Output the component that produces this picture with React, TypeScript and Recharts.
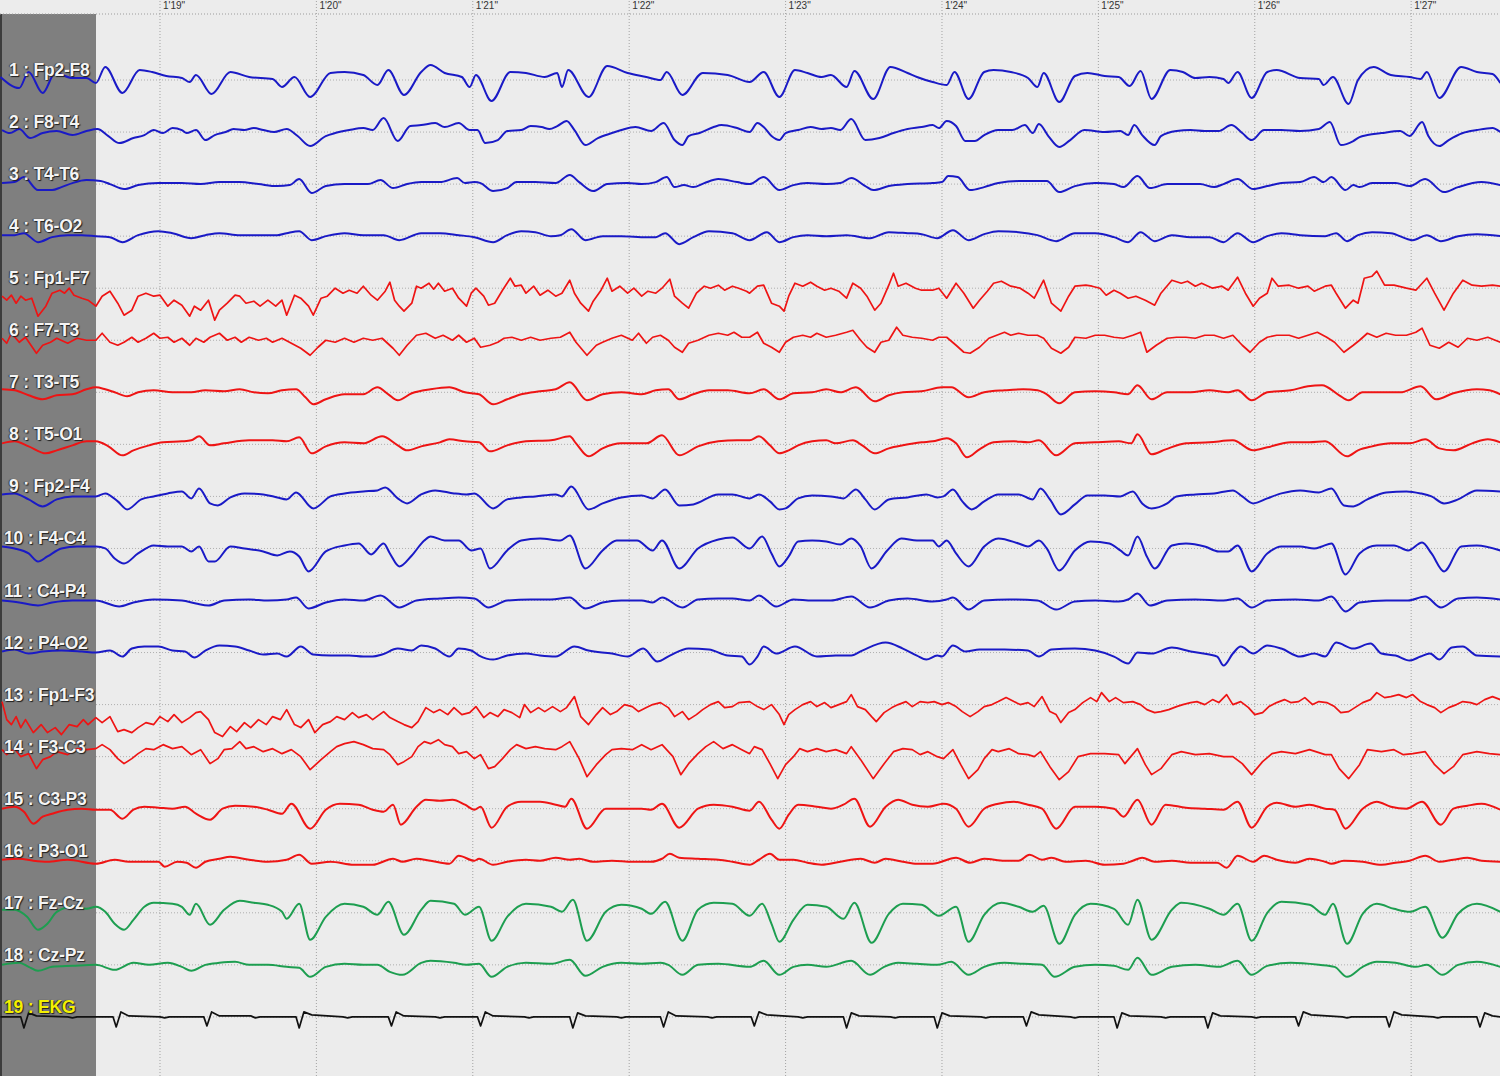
import { LineChart, Line, XAxis, YAxis, ReferenceLine } from 'recharts';

// time axis: seconds after 1'18", amplitudes in display units (up = positive)
const T_START = -0.023;
const T_END = 9.568;
const PANEL_END = 0.591; // right edge of the label panel

const secondTicks = [1, 2, 3, 4, 5, 6, 7, 8, 9];
const secondLabels = ['1\'19"', '1\'20"', '1\'21"', '1\'22"', '1\'23"', '1\'24"', '1\'25"', '1\'26"', '1\'27"'];

const channelNames = [
    '1 : Fp2-F8', '2 : F8-T4', '3 : T4-T6', '4 : T6-O2', '5 : Fp1-F7', '6 : F7-T3', '7 : T3-T5',
    '8 : T5-O1', '9 : Fp2-F4', '10 : F4-C4', '11 : C4-P4', '12 : P4-O2', '13 : Fp1-F3', '14 : F3-C3',
    '15 : C3-P3', '16 : P3-O1', '17 : Fz-Cz', '18 : Cz-Pz', '19 : EKG',
];

const fp2F8 = [[-0.02,3],[0.10,-8],[0.16,8],[0.25,-13],[0.33,7],[0.44,2],[0.53,2],[0.59,-3],[0.65,13],[0.76,-13],[0.87,10],[0.95,8],[1.04,4],[1.14,2],[1.19,-2],[1.23,5],[1.33,-14],[1.45,8],[1.57,3],[1.72,1],[1.78,-7],[1.86,3],[1.96,-17],[2.09,7],[2.18,8],[2.30,5],[2.39,-5],[2.46,10],[2.56,-15],[2.67,8],[2.73,15],[2.82,7],[2.93,3],[2.98,-7],[3.02,5],[3.12,-21],[3.24,8],[3.34,7],[3.46,3],[3.54,7],[3.57,-7],[3.61,10],[3.74,-17],[3.86,14],[3.99,7],[4.11,3],[4.20,0],[4.24,8],[4.34,-15],[4.47,7],[4.63,5],[4.77,-2],[4.86,8],[4.96,-17],[5.06,10],[5.14,7],[5.23,3],[5.29,5],[5.39,-7],[5.44,9],[5.56,-19],[5.67,13],[5.78,7],[5.84,3],[5.94,-2],[6.03,-5],[6.08,8],[6.17,-19],[6.27,8],[6.33,10],[6.44,8],[6.55,2],[6.61,-7],[6.65,7],[6.75,-22],[6.85,4],[6.93,7],[7.04,4],[7.13,3],[7.20,-6],[7.27,9],[7.34,-19],[7.46,10],[7.54,8],[7.62,2],[7.71,3],[7.80,1],[7.83,-3],[7.89,8],[7.98,-18],[8.08,8],[8.14,10],[8.29,2],[8.41,1],[8.44,-5],[8.50,3],[8.60,-24],[8.66,0],[8.76,13],[8.87,5],[8.99,3],[9.06,1],[9.10,8],[9.18,-18],[9.32,13],[9.42,8],[9.52,6],[9.57,-3]];

const f8T4 = [[-0.01,2],[0.04,-1],[0.10,3],[0.17,-6],[0.25,-1],[0.34,1],[0.44,-3],[0.53,1],[0.60,3],[0.67,-4],[0.74,-11],[0.83,-6],[0.90,-3],[0.96,2],[1.02,-1],[1.08,4],[1.14,2],[1.17,-1],[1.23,2],[1.29,-8],[1.35,-3],[1.42,0],[1.47,3],[1.54,2],[1.60,4],[1.66,2],[1.73,0],[1.81,3],[1.88,-4],[1.96,-14],[2.06,-4],[2.12,-1],[2.21,2],[2.30,4],[2.36,2],[2.43,14],[2.52,-9],[2.60,6],[2.67,7],[2.76,9],[2.82,5],[2.91,9],[2.98,2],[3.03,2],[3.08,-11],[3.16,-8],[3.22,1],[3.31,2],[3.37,6],[3.44,5],[3.49,3],[3.54,6],[3.60,11],[3.65,2],[3.72,-13],[3.80,-6],[3.89,-1],[3.95,2],[4.04,5],[4.14,1],[4.22,9],[4.29,-8],[4.34,-13],[4.38,-4],[4.45,-1],[4.54,5],[4.59,7],[4.69,4],[4.77,0],[4.82,9],[4.86,5],[4.91,-4],[4.96,-8],[5.00,-1],[5.08,2],[5.16,5],[5.23,3],[5.29,4],[5.35,2],[5.42,13],[5.51,-8],[5.60,-6],[5.69,-1],[5.78,3],[5.87,5],[5.94,7],[5.98,4],[6.03,11],[6.09,6],[6.15,-9],[6.21,-9],[6.27,-3],[6.36,2],[6.45,2],[6.53,7],[6.58,-1],[6.62,8],[6.68,-4],[6.75,-15],[6.82,-8],[6.91,2],[7.04,0],[7.14,1],[7.19,-3],[7.23,7],[7.28,-3],[7.36,-13],[7.40,-4],[7.50,1],[7.59,2],[7.68,1],[7.77,1],[7.85,7],[7.92,-1],[7.98,-8],[8.06,2],[8.17,2],[8.29,1],[8.41,3],[8.48,10],[8.55,-13],[8.63,-9],[8.67,-5],[8.72,-3],[8.81,-1],[8.93,1],[8.99,-4],[9.07,10],[9.11,-4],[9.18,-14],[9.24,-8],[9.33,-1],[9.42,2],[9.52,4],[9.57,0]];

const t4T6 = [[-0.01,1],[0.07,2],[0.13,7],[0.22,-6],[0.31,-6],[0.37,-3],[0.44,1],[0.53,4],[0.62,3],[0.68,0],[0.77,-5],[0.86,-1],[0.99,1],[1.14,1],[1.26,0],[1.38,2],[1.51,2],[1.63,0],[1.75,-2],[1.83,-1],[1.89,5],[1.97,-9],[2.06,-2],[2.18,0],[2.33,0],[2.41,4],[2.49,-4],[2.58,0],[2.67,2],[2.79,2],[2.90,6],[2.95,1],[3.01,2],[3.05,1],[3.13,-7],[3.22,-4],[3.28,2],[3.40,2],[3.53,1],[3.62,9],[3.68,2],[3.77,-7],[3.86,0],[3.99,1],[4.08,0],[4.17,2],[4.24,7],[4.29,-3],[4.35,-1],[4.41,-3],[4.48,1],[4.57,5],[4.69,2],[4.77,0],[4.86,7],[4.96,-6],[5.05,-1],[5.14,1],[5.26,0],[5.35,1],[5.42,6],[5.51,-2],[5.56,-6],[5.66,-2],[5.78,0],[5.94,1],[6.00,2],[6.04,8],[6.10,7],[6.18,-6],[6.27,-3],[6.36,1],[6.49,3],[6.67,3],[6.75,-8],[6.85,-2],[6.98,1],[7.10,0],[7.16,-3],[7.25,8],[7.33,-4],[7.44,0],[7.65,0],[7.74,-3],[7.80,0],[7.89,5],[7.99,-5],[8.08,-2],[8.17,1],[8.29,2],[8.38,7],[8.44,2],[8.49,7],[8.58,-6],[8.63,-1],[8.67,-3],[8.75,1],[8.90,1],[8.99,-2],[9.09,5],[9.21,-8],[9.30,-3],[9.45,2],[9.57,-1]];

const t6O2 = [[-0.01,1],[0.07,1],[0.13,3],[0.22,-6],[0.31,-1],[0.41,1],[0.50,1],[0.59,0],[0.68,-1],[0.76,-6],[0.86,1],[0.99,5],[1.08,3],[1.20,-2],[1.29,1],[1.38,3],[1.51,1],[1.63,1],[1.75,1],[1.81,3],[1.89,5],[1.97,-4],[2.06,0],[2.18,3],[2.30,1],[2.43,1],[2.53,-4],[2.67,3],[2.79,3],[2.91,1],[3.01,-1],[3.13,-6],[3.22,1],[3.31,5],[3.40,4],[3.50,0],[3.56,1],[3.63,7],[3.72,-4],[3.83,0],[3.95,0],[4.11,-1],[4.17,-1],[4.23,3],[4.32,-8],[4.41,-1],[4.51,5],[4.66,3],[4.77,-4],[4.88,4],[4.96,-6],[5.05,-1],[5.14,1],[5.26,0],[5.39,1],[5.54,-2],[5.66,4],[5.78,3],[5.87,2],[5.97,-2],[6.07,6],[6.17,-4],[6.27,2],[6.36,5],[6.49,4],[6.61,1],[6.73,-5],[6.85,3],[6.98,3],[7.10,-1],[7.19,-6],[7.27,4],[7.36,-5],[7.47,1],[7.59,-1],[7.71,-1],[7.80,-6],[7.89,3],[7.99,-6],[8.08,0],[8.17,3],[8.29,1],[8.45,0],[8.52,3],[8.59,-5],[8.66,1],[8.75,4],[8.87,3],[9.01,-4],[9.10,1],[9.19,-5],[9.30,0],[9.42,2],[9.57,0]];

const fp1F7 = [[-0.01,-8],[0.02,-12],[0.05,-7],[0.08,-15],[0.11,-8],[0.14,-12],[0.18,-10],[0.22,-28],[0.27,-18],[0.31,-5],[0.36,-2],[0.39,-5],[0.42,0],[0.45,-7],[0.50,-10],[0.54,-12],[0.59,-18],[0.63,-8],[0.68,-3],[0.73,-15],[0.77,-27],[0.82,-22],[0.86,-8],[0.91,-5],[0.96,-8],[1.00,-7],[1.05,-18],[1.09,-12],[1.14,-17],[1.19,-28],[1.22,-18],[1.26,-22],[1.31,-12],[1.35,-32],[1.38,-22],[1.43,-15],[1.48,-7],[1.51,-8],[1.55,-15],[1.60,-13],[1.64,-18],[1.69,-12],[1.74,-18],[1.78,-12],[1.81,-27],[1.86,-7],[1.90,-10],[1.95,-18],[1.98,-27],[2.03,-10],[2.07,-8],[2.12,0],[2.17,-5],[2.21,-2],[2.26,-5],[2.30,2],[2.35,-7],[2.39,-12],[2.44,-3],[2.47,6],[2.50,-12],[2.53,-18],[2.56,-23],[2.61,-15],[2.64,2],[2.67,0],[2.72,5],[2.75,-1],[2.78,5],[2.82,-3],[2.87,0],[2.91,-10],[2.96,-18],[2.99,-5],[3.02,0],[3.07,-8],[3.10,-17],[3.14,-15],[3.19,-2],[3.24,10],[3.27,2],[3.31,3],[3.34,-5],[3.39,2],[3.43,-7],[3.48,-2],[3.53,-8],[3.57,-5],[3.62,8],[3.65,-5],[3.69,-15],[3.74,-23],[3.77,-13],[3.82,-2],[3.86,10],[3.89,-3],[3.94,2],[3.99,-5],[4.03,0],[4.08,-8],[4.12,-3],[4.17,-5],[4.21,0],[4.26,9],[4.29,-8],[4.34,-15],[4.38,-20],[4.43,-5],[4.48,2],[4.52,0],[4.57,3],[4.61,-2],[4.66,2],[4.70,0],[4.75,-3],[4.77,-5],[4.82,2],[4.86,3],[4.91,-15],[4.96,-18],[4.99,-23],[5.02,-8],[5.06,5],[5.11,2],[5.16,6],[5.20,2],[5.25,-2],[5.29,0],[5.34,-3],[5.39,-10],[5.43,5],[5.48,0],[5.52,-8],[5.57,-22],[5.61,-15],[5.66,3],[5.69,15],[5.72,2],[5.77,5],[5.83,0],[5.87,-2],[5.94,-2],[5.98,0],[6.03,-10],[6.09,5],[6.14,-5],[6.20,-20],[6.24,-12],[6.29,-3],[6.33,5],[6.38,7],[6.44,2],[6.50,0],[6.55,-5],[6.59,-10],[6.65,8],[6.70,-15],[6.76,-23],[6.81,-8],[6.85,2],[6.92,3],[6.96,2],[7.01,0],[7.05,-7],[7.10,-2],[7.14,-5],[7.19,-10],[7.24,-8],[7.30,-12],[7.36,-17],[7.40,-5],[7.47,8],[7.53,5],[7.57,7],[7.62,2],[7.66,5],[7.73,0],[7.79,2],[7.83,-2],[7.89,11],[7.94,-5],[7.99,-18],[8.03,-10],[8.08,-5],[8.11,10],[8.15,2],[8.22,3],[8.28,0],[8.34,2],[8.38,-3],[8.45,2],[8.49,3],[8.52,-5],[8.58,-20],[8.63,-12],[8.66,-15],[8.70,10],[8.75,12],[8.78,17],[8.83,3],[8.89,3],[8.97,0],[9.03,-2],[9.10,10],[9.15,-5],[9.21,-22],[9.27,-5],[9.33,8],[9.39,3],[9.45,2],[9.52,3],[9.57,2]];

const f7T3 = [[-0.01,2],[0.02,-3],[0.05,7],[0.10,-2],[0.14,3],[0.21,-13],[0.25,-5],[0.30,-2],[0.34,2],[0.41,-3],[0.47,2],[0.53,0],[0.59,0],[0.63,7],[0.68,-2],[0.73,-5],[0.77,-2],[0.82,3],[0.86,-2],[0.91,2],[0.96,7],[1.00,2],[1.05,3],[1.09,-2],[1.14,2],[1.19,-5],[1.23,2],[1.28,-2],[1.32,3],[1.38,7],[1.43,0],[1.48,3],[1.52,-2],[1.57,3],[1.63,0],[1.68,2],[1.72,-2],[1.78,2],[1.84,-3],[1.90,-8],[1.96,-15],[2.01,-7],[2.06,0],[2.12,-2],[2.18,2],[2.24,-2],[2.30,2],[2.36,0],[2.42,2],[2.49,-8],[2.53,-15],[2.58,-5],[2.64,5],[2.70,7],[2.76,2],[2.81,5],[2.87,0],[2.91,5],[2.96,-2],[3.01,2],[3.05,-7],[3.11,-5],[3.16,-2],[3.20,2],[3.25,3],[3.31,0],[3.37,3],[3.43,0],[3.50,2],[3.56,3],[3.62,8],[3.66,-2],[3.73,-15],[3.79,-5],[3.83,-2],[3.89,2],[3.95,5],[4.02,0],[4.06,7],[4.11,-3],[4.15,3],[4.20,5],[4.25,0],[4.29,-7],[4.34,-12],[4.38,-3],[4.44,0],[4.51,5],[4.57,7],[4.63,5],[4.67,8],[4.72,3],[4.77,3],[4.82,8],[4.86,-3],[4.91,-7],[4.96,-12],[5.00,-2],[5.05,3],[5.11,5],[5.16,3],[5.20,7],[5.26,3],[5.32,5],[5.39,8],[5.43,10],[5.48,0],[5.52,-7],[5.57,-12],[5.61,-2],[5.66,0],[5.71,13],[5.75,5],[5.81,3],[5.87,2],[5.94,0],[5.98,3],[6.03,3],[6.09,-5],[6.14,-12],[6.18,-13],[6.24,-7],[6.30,2],[6.35,5],[6.40,8],[6.44,5],[6.49,7],[6.55,5],[6.61,5],[6.65,2],[6.70,-8],[6.76,-13],[6.81,-7],[6.85,3],[6.92,2],[6.98,5],[7.04,5],[7.10,3],[7.16,2],[7.22,5],[7.27,8],[7.31,-12],[7.37,-5],[7.44,2],[7.50,3],[7.56,3],[7.62,2],[7.68,5],[7.74,5],[7.80,2],[7.86,5],[7.92,-5],[7.97,-12],[8.03,-2],[8.08,3],[8.14,5],[8.22,5],[8.28,2],[8.34,5],[8.40,8],[8.46,3],[8.51,-2],[8.57,-12],[8.63,-5],[8.67,0],[8.72,7],[8.78,3],[8.84,7],[8.90,5],[8.97,5],[9.03,8],[9.07,12],[9.12,-5],[9.18,-8],[9.24,-2],[9.30,-7],[9.36,2],[9.42,0],[9.49,3],[9.57,-2]];

const t3T5 = [[-0.01,3],[0.07,2],[0.16,-3],[0.25,-7],[0.34,-3],[0.44,-2],[0.53,3],[0.59,5],[0.65,3],[0.71,0],[0.79,-4],[0.86,0],[0.96,2],[1.08,0],[1.20,0],[1.29,2],[1.41,1],[1.51,3],[1.60,0],[1.69,-1],[1.78,2],[1.87,3],[1.93,-5],[1.98,-12],[2.06,-7],[2.18,-2],[2.30,-2],[2.39,5],[2.46,-2],[2.52,-8],[2.61,-1],[2.73,3],[2.85,5],[2.95,0],[3.04,-2],[3.13,-12],[3.22,-7],[3.31,-2],[3.43,1],[3.53,3],[3.62,10],[3.73,-8],[3.83,-2],[3.95,0],[4.08,-2],[4.17,2],[4.25,3],[4.32,-7],[4.41,-2],[4.51,2],[4.63,2],[4.77,-1],[4.86,3],[4.96,-7],[5.05,-1],[5.17,0],[5.26,3],[5.35,0],[5.45,5],[5.57,-9],[5.66,-3],[5.75,0],[5.87,1],[6.00,5],[6.06,5],[6.17,-5],[6.27,0],[6.40,2],[6.52,3],[6.61,2],[6.67,-2],[6.75,-11],[6.85,0],[6.98,1],[7.10,0],[7.19,-2],[7.25,7],[7.34,-7],[7.44,0],[7.59,0],[7.71,2],[7.83,0],[7.89,2],[7.98,-8],[8.08,0],[8.23,2],[8.34,6],[8.43,7],[8.54,-3],[8.60,-8],[8.69,0],[8.81,0],[8.93,0],[9.06,6],[9.16,-7],[9.27,-1],[9.42,3],[9.50,2],[9.57,-2]];

const t5O1 = [[-0.01,1],[0.07,3],[0.16,-2],[0.27,-9],[0.34,-6],[0.44,-1],[0.53,3],[0.59,3],[0.67,-2],[0.76,-11],[0.83,-6],[0.93,-1],[1.02,2],[1.14,3],[1.20,4],[1.25,8],[1.32,-1],[1.41,1],[1.57,4],[1.72,4],[1.81,3],[1.89,7],[1.97,-9],[2.06,-2],[2.18,2],[2.30,1],[2.42,8],[2.52,-1],[2.58,-6],[2.67,-2],[2.79,2],[2.85,5],[2.95,3],[3.04,2],[3.11,-7],[3.22,-1],[3.34,3],[3.50,4],[3.62,8],[3.66,1],[3.74,-12],[3.83,-4],[3.95,1],[4.11,1],[4.21,9],[4.32,-11],[4.44,-2],[4.57,3],[4.69,4],[4.77,4],[4.83,8],[4.90,-1],[4.96,-9],[5.02,-6],[5.08,-1],[5.17,3],[5.26,4],[5.32,1],[5.43,4],[5.49,-1],[5.57,-9],[5.66,-4],[5.75,-1],[5.87,2],[5.94,3],[6.03,6],[6.09,1],[6.16,-13],[6.24,-5],[6.33,2],[6.46,3],[6.55,2],[6.62,4],[6.73,-11],[6.85,1],[6.98,2],[7.13,3],[7.21,1],[7.25,10],[7.34,-10],[7.43,-5],[7.56,1],[7.71,2],[7.86,4],[7.99,-6],[8.08,-3],[8.23,2],[8.35,2],[8.45,3],[8.59,-12],[8.66,-6],[8.75,-2],[8.87,1],[8.99,1],[9.09,5],[9.18,-4],[9.27,-6],[9.39,1],[9.49,5],[9.57,2]];

const fp2F4 = [[-0.01,2],[0.07,3],[0.16,-3],[0.25,-10],[0.34,-3],[0.44,0],[0.59,0],[0.65,3],[0.73,-5],[0.79,-13],[0.88,-3],[0.96,0],[1.05,3],[1.14,5],[1.20,-2],[1.25,8],[1.32,-7],[1.37,-9],[1.45,-1],[1.54,3],[1.66,2],[1.75,-1],[1.81,-3],[1.87,4],[1.98,-12],[2.09,0],[2.18,3],[2.30,5],[2.39,6],[2.44,9],[2.52,-2],[2.58,-7],[2.67,2],[2.76,6],[2.88,3],[2.96,2],[3.01,3],[3.13,-12],[3.22,-3],[3.31,-1],[3.40,0],[3.53,2],[3.57,0],[3.63,10],[3.74,-13],[3.83,-7],[3.95,-1],[4.08,1],[4.15,-2],[4.23,7],[4.32,-9],[4.41,-8],[4.57,2],[4.66,2],[4.77,-2],[4.83,2],[4.90,-5],[4.96,-13],[5.00,-12],[5.08,-2],[5.17,1],[5.29,0],[5.37,-2],[5.45,7],[5.51,-3],[5.57,-13],[5.66,-3],[5.78,-1],[5.90,2],[5.97,-1],[6.01,0],[6.07,7],[6.13,-5],[6.19,-13],[6.27,-5],[6.36,2],[6.49,2],[6.58,-3],[6.63,8],[6.69,-3],[6.76,-18],[6.85,-8],[6.93,1],[7.04,1],[7.14,0],[7.22,5],[7.28,-7],[7.34,-12],[7.44,-7],[7.50,0],[7.62,2],[7.74,3],[7.86,6],[7.92,0],[7.99,-7],[8.08,-2],[8.17,3],[8.29,6],[8.41,4],[8.49,8],[8.57,-9],[8.63,-10],[8.72,-3],[8.84,4],[8.97,5],[9.06,3],[9.13,0],[9.21,-7],[9.30,-3],[9.42,6],[9.57,5]];

const f4C4 = [[-0.01,2],[0.07,0],[0.16,-5],[0.22,-13],[0.28,-8],[0.37,0],[0.47,2],[0.59,2],[0.65,0],[0.71,-10],[0.77,-15],[0.86,-5],[0.96,3],[1.05,2],[1.14,2],[1.20,-3],[1.25,2],[1.31,-13],[1.35,-13],[1.45,2],[1.54,0],[1.66,-3],[1.75,-7],[1.83,-3],[1.89,-8],[1.95,-23],[2.06,-3],[2.18,3],[2.27,5],[2.35,-6],[2.43,5],[2.47,-5],[2.53,-18],[2.61,-7],[2.69,8],[2.73,12],[2.82,8],[2.91,8],[2.99,-2],[3.05,0],[3.11,-20],[3.22,-2],[3.31,8],[3.43,10],[3.56,8],[3.62,13],[3.72,-20],[3.83,-2],[3.92,8],[4.05,8],[4.15,-2],[4.21,8],[4.32,-20],[4.44,0],[4.57,9],[4.66,11],[4.77,0],[4.85,12],[4.91,-5],[4.96,-18],[5.02,-8],[5.08,7],[5.17,8],[5.26,7],[5.35,4],[5.42,10],[5.48,2],[5.55,-20],[5.65,-2],[5.74,10],[5.84,8],[5.94,8],[5.98,2],[6.03,8],[6.09,-5],[6.17,-18],[6.27,2],[6.36,10],[6.49,5],[6.55,2],[6.62,8],[6.67,0],[6.75,-22],[6.85,-2],[6.95,7],[7.07,5],[7.14,-2],[7.19,-7],[7.25,12],[7.31,-8],[7.36,-20],[7.47,3],[7.56,5],[7.68,2],[7.77,-3],[7.83,-3],[7.89,3],[7.98,-23],[8.08,-5],[8.17,2],[8.29,2],[8.38,0],[8.43,2],[8.49,5],[8.58,-26],[8.67,-5],[8.78,3],[8.89,3],[8.98,-2],[9.07,6],[9.13,-5],[9.21,-23],[9.32,2],[9.42,3],[9.57,-2]];

const c4P4 = [[-0.01,0],[0.10,-2],[0.22,-5],[0.31,-2],[0.44,0],[0.59,0],[0.74,-6],[0.83,-2],[0.96,1],[1.14,0],[1.23,-3],[1.31,-5],[1.41,0],[1.57,1],[1.69,0],[1.81,1],[1.87,3],[1.95,-8],[2.06,-2],[2.18,1],[2.30,0],[2.41,5],[2.53,-7],[2.64,0],[2.79,2],[2.91,3],[3.01,2],[3.10,-7],[3.22,0],[3.37,1],[3.50,1],[3.62,3],[3.72,-8],[3.83,-2],[3.95,0],[4.08,0],[4.15,-2],[4.21,3],[4.34,-7],[4.44,1],[4.57,2],[4.66,2],[4.77,0],[4.83,5],[4.94,-6],[5.05,1],[5.17,0],[5.29,0],[5.42,4],[5.54,-7],[5.66,0],[5.78,2],[5.94,-1],[6.03,1],[6.07,3],[6.17,-9],[6.27,0],[6.43,1],[6.61,0],[6.73,-9],[6.85,-1],[6.98,0],[7.13,-1],[7.19,1],[7.25,7],[7.33,-5],[7.44,0],[7.62,1],[7.80,0],[7.89,2],[7.98,-7],[8.08,0],[8.26,1],[8.41,0],[8.49,4],[8.58,-11],[8.67,-2],[8.84,0],[8.98,0],[9.09,4],[9.19,-7],[9.30,2],[9.42,3],[9.57,1]];

const p4O2 = [[-0.01,1],[0.07,3],[0.16,-1],[0.25,1],[0.37,2],[0.50,1],[0.59,0],[0.68,2],[0.76,-4],[0.82,4],[0.90,6],[0.99,6],[1.08,2],[1.16,1],[1.22,-5],[1.29,2],[1.38,7],[1.48,6],[1.57,2],[1.66,-2],[1.75,-1],[1.81,-4],[1.90,6],[1.98,-2],[2.09,-3],[2.21,-3],[2.30,-4],[2.36,-4],[2.42,-2],[2.52,4],[2.61,2],[2.67,7],[2.76,4],[2.85,-4],[2.91,4],[2.99,2],[3.04,-3],[3.13,-7],[3.22,-3],[3.34,-1],[3.43,-3],[3.53,-4],[3.65,6],[3.74,2],[3.89,-1],[3.99,-4],[4.09,4],[4.18,-9],[4.26,-3],[4.38,4],[4.51,3],[4.63,-3],[4.72,-4],[4.77,-12],[4.82,-4],[4.86,6],[4.94,-1],[5.06,6],[5.20,-4],[5.32,-3],[5.42,-3],[5.49,2],[5.64,10],[5.75,4],[5.84,-3],[5.90,-7],[5.97,-3],[6.00,-4],[6.07,7],[6.15,1],[6.24,3],[6.40,3],[6.55,2],[6.62,-4],[6.70,3],[6.85,4],[6.98,2],[7.10,-4],[7.19,-11],[7.25,0],[7.34,-1],[7.47,5],[7.59,1],[7.71,-2],[7.76,-4],[7.80,-13],[7.86,-1],[7.91,6],[7.99,-1],[8.08,7],[8.17,4],[8.29,-4],[8.38,-1],[8.45,-4],[8.52,10],[8.63,4],[8.74,9],[8.81,-1],[8.90,-3],[8.99,-8],[9.06,-4],[9.12,-1],[9.18,-7],[9.26,5],[9.33,6],[9.42,-3],[9.57,-4]];

const fp1F3 = [[-0.01,3],[0.02,-15],[0.05,-20],[0.08,-12],[0.11,-23],[0.14,-15],[0.19,-28],[0.24,-20],[0.28,-28],[0.33,-23],[0.37,-30],[0.42,-20],[0.47,-22],[0.51,-15],[0.54,-20],[0.59,-13],[0.63,-18],[0.68,-12],[0.73,-27],[0.77,-25],[0.82,-28],[0.86,-23],[0.91,-18],[0.96,-20],[1.00,-12],[1.05,-17],[1.09,-10],[1.14,-18],[1.19,-13],[1.23,-8],[1.26,-7],[1.31,-15],[1.35,-28],[1.40,-32],[1.45,-22],[1.49,-27],[1.54,-18],[1.58,-23],[1.63,-15],[1.68,-20],[1.72,-12],[1.77,-15],[1.81,-5],[1.86,-20],[1.90,-23],[1.95,-15],[1.99,-28],[2.04,-20],[2.09,-17],[2.13,-12],[2.18,-15],[2.23,-8],[2.27,-13],[2.32,-10],[2.36,-15],[2.43,-7],[2.47,-13],[2.52,-17],[2.56,-20],[2.61,-23],[2.65,-17],[2.70,-3],[2.75,-8],[2.79,-5],[2.84,-10],[2.88,-3],[2.93,-10],[2.98,-8],[3.02,-2],[3.07,-13],[3.11,-8],[3.16,-12],[3.20,-5],[3.25,-8],[3.30,-13],[3.33,0],[3.37,-8],[3.42,-3],[3.46,-7],[3.51,-2],[3.56,-7],[3.60,-3],[3.65,8],[3.69,-12],[3.74,-20],[3.79,-10],[3.83,-3],[3.88,-10],[3.92,-7],[3.97,0],[4.02,-2],[4.06,-7],[4.11,-3],[4.15,0],[4.20,2],[4.25,-3],[4.29,-12],[4.34,-7],[4.38,-15],[4.43,-10],[4.47,-5],[4.52,0],[4.57,3],[4.61,-3],[4.66,-2],[4.70,2],[4.77,3],[4.82,-2],[4.86,-5],[4.91,0],[4.96,-10],[4.99,-20],[5.02,-10],[5.06,-5],[5.11,0],[5.16,3],[5.20,-2],[5.25,2],[5.29,-3],[5.34,0],[5.39,3],[5.42,10],[5.46,-2],[5.51,-5],[5.55,-12],[5.58,-17],[5.63,-8],[5.68,-3],[5.72,0],[5.77,3],[5.81,-2],[5.86,3],[5.91,2],[5.95,3],[6.00,0],[6.04,2],[6.09,-2],[6.13,-7],[6.18,-12],[6.23,-7],[6.27,-2],[6.32,0],[6.36,3],[6.41,7],[6.46,3],[6.50,0],[6.55,2],[6.59,-2],[6.64,8],[6.69,-7],[6.73,-10],[6.76,-18],[6.81,-8],[6.85,-5],[6.90,2],[6.95,7],[6.99,3],[7.02,12],[7.07,3],[7.11,7],[7.16,2],[7.22,3],[7.27,0],[7.31,-5],[7.36,-8],[7.40,-7],[7.45,-5],[7.50,-2],[7.54,0],[7.59,2],[7.63,3],[7.68,0],[7.73,5],[7.77,2],[7.82,10],[7.86,0],[7.91,3],[7.96,-3],[8.00,-10],[8.05,-8],[8.09,-2],[8.14,2],[8.19,5],[8.23,2],[8.28,3],[8.32,7],[8.37,0],[8.41,3],[8.46,2],[8.51,-2],[8.55,-8],[8.60,-7],[8.64,-3],[8.69,2],[8.74,5],[8.78,12],[8.83,7],[8.87,8],[8.92,10],[8.97,7],[9.01,10],[9.06,3],[9.10,0],[9.15,-3],[9.19,-8],[9.24,-3],[9.29,0],[9.33,3],[9.38,2],[9.42,0],[9.47,5],[9.52,8],[9.57,5]];

const f3C3 = [[-0.01,7],[0.02,2],[0.07,8],[0.11,0],[0.16,3],[0.21,-12],[0.25,-3],[0.30,0],[0.34,5],[0.41,2],[0.47,8],[0.53,7],[0.59,8],[0.63,12],[0.68,7],[0.73,-2],[0.77,-7],[0.82,-2],[0.86,3],[0.91,8],[0.96,7],[1.02,12],[1.08,8],[1.14,10],[1.20,2],[1.26,7],[1.32,-7],[1.37,-2],[1.41,7],[1.46,8],[1.51,15],[1.55,8],[1.60,10],[1.66,5],[1.72,8],[1.78,3],[1.84,7],[1.90,0],[1.96,-13],[2.03,-3],[2.09,5],[2.13,10],[2.18,13],[2.24,15],[2.30,12],[2.36,8],[2.43,7],[2.47,2],[2.52,-8],[2.56,-5],[2.61,0],[2.65,10],[2.69,15],[2.73,13],[2.78,17],[2.82,12],[2.87,10],[2.91,3],[2.96,5],[3.01,-2],[3.05,2],[3.10,-12],[3.14,-10],[3.19,-2],[3.24,7],[3.28,12],[3.34,8],[3.40,10],[3.46,8],[3.53,7],[3.57,10],[3.62,15],[3.68,-2],[3.73,-20],[3.79,-8],[3.85,2],[3.89,7],[3.95,8],[4.02,7],[4.08,12],[4.14,7],[4.21,12],[4.28,0],[4.33,-18],[4.38,-7],[4.44,3],[4.49,10],[4.54,15],[4.60,8],[4.66,12],[4.72,7],[4.77,3],[4.80,10],[4.85,7],[4.90,-7],[4.95,-22],[5.00,-8],[5.05,0],[5.09,8],[5.14,5],[5.20,8],[5.26,5],[5.32,7],[5.39,3],[5.42,10],[5.48,-3],[5.56,-22],[5.63,-7],[5.69,5],[5.75,8],[5.81,7],[5.86,2],[5.91,5],[5.97,0],[6.01,-2],[6.07,7],[6.12,-8],[6.17,-22],[6.23,-13],[6.27,-2],[6.32,7],[6.36,5],[6.43,8],[6.49,3],[6.55,2],[6.59,0],[6.63,5],[6.69,-10],[6.75,-23],[6.81,-15],[6.87,0],[6.95,3],[7.04,3],[7.13,2],[7.17,-7],[7.25,8],[7.30,-8],[7.34,-18],[7.40,-12],[7.47,2],[7.53,5],[7.62,2],[7.71,3],[7.80,0],[7.86,0],[7.92,-7],[7.98,-18],[8.05,-5],[8.11,3],[8.17,5],[8.26,3],[8.35,7],[8.45,2],[8.49,2],[8.54,-12],[8.60,-22],[8.67,-8],[8.72,7],[8.81,5],[8.89,7],[8.95,2],[9.01,3],[9.09,5],[9.15,-8],[9.21,-17],[9.27,-10],[9.33,2],[9.42,5],[9.50,3],[9.57,2]];

const c3P3 = [[-0.01,0],[0.07,2],[0.13,-3],[0.19,-15],[0.25,-8],[0.31,-5],[0.41,-1],[0.50,0],[0.59,-1],[0.68,-1],[0.76,-10],[0.83,-1],[0.90,2],[0.99,1],[1.08,0],[1.16,2],[1.23,-5],[1.32,-11],[1.40,0],[1.48,3],[1.60,2],[1.69,-1],[1.78,-5],[1.84,5],[1.96,-20],[2.06,-1],[2.15,5],[2.27,4],[2.36,-1],[2.43,-3],[2.49,4],[2.54,-16],[2.64,2],[2.70,9],[2.79,8],[2.87,9],[2.95,4],[3.01,-1],[3.05,2],[3.12,-19],[3.22,2],[3.31,7],[3.43,7],[3.53,4],[3.59,2],[3.63,10],[3.73,-20],[3.85,0],[3.95,0],[4.08,0],[4.14,-1],[4.21,5],[4.32,-19],[4.44,0],[4.54,4],[4.66,2],[4.77,-2],[4.83,7],[4.91,-11],[4.96,-20],[5.02,-6],[5.08,4],[5.20,2],[5.29,0],[5.37,4],[5.44,10],[5.54,-18],[5.64,2],[5.72,9],[5.81,4],[5.91,2],[6.01,5],[6.09,0],[6.17,-18],[6.27,0],[6.36,5],[6.46,7],[6.55,4],[6.64,0],[6.73,-20],[6.85,2],[6.98,2],[7.10,0],[7.16,-8],[7.25,9],[7.34,-16],[7.43,4],[7.56,1],[7.68,0],[7.80,-1],[7.89,7],[7.98,-19],[8.08,2],[8.14,6],[8.26,2],[8.35,4],[8.45,0],[8.51,-1],[8.58,-20],[8.69,0],[8.78,7],[8.87,2],[8.97,0],[9.07,7],[9.19,-16],[9.27,0],[9.36,3],[9.45,5],[9.57,-1]];

const p3O1 = [[-0.01,1],[0.10,2],[0.19,0],[0.28,-1],[0.41,1],[0.59,-3],[0.71,1],[0.80,-1],[0.99,-1],[1.03,-6],[1.11,-1],[1.17,-2],[1.23,-7],[1.29,-1],[1.38,2],[1.45,4],[1.57,1],[1.69,-1],[1.81,1],[1.89,6],[1.97,-3],[2.09,-1],[2.24,-4],[2.36,-4],[2.49,2],[2.55,-1],[2.64,2],[2.73,0],[2.85,-3],[2.91,5],[3.01,0],[3.04,2],[3.13,-4],[3.22,-1],[3.34,1],[3.43,0],[3.53,3],[3.62,1],[3.68,2],[3.77,-1],[3.89,0],[4.02,-1],[4.14,-1],[4.21,2],[4.26,7],[4.32,3],[4.44,2],[4.57,1],[4.66,-1],[4.77,-4],[4.83,1],[4.90,7],[4.96,1],[5.05,1],[5.14,-2],[5.23,-4],[5.35,-1],[5.48,2],[5.57,-2],[5.64,2],[5.75,-1],[5.84,-3],[5.94,-3],[6.09,3],[6.18,-2],[6.27,2],[6.40,0],[6.49,0],[6.56,6],[6.64,1],[6.70,3],[6.79,-1],[6.92,0],[7.04,-4],[7.16,-3],[7.22,0],[7.28,3],[7.36,-1],[7.47,0],[7.59,-2],[7.76,-2],[7.82,-7],[7.89,5],[7.99,-1],[8.06,5],[8.14,1],[8.26,-2],[8.35,2],[8.45,-1],[8.49,-3],[8.57,0],[8.69,-1],[8.81,-4],[8.90,-2],[8.99,0],[9.09,5],[9.18,-1],[9.27,1],[9.36,3],[9.45,0],[9.57,-1]];

const fzCz = [[-0.01,3],[0.07,3],[0.15,-4],[0.22,-17],[0.28,-11],[0.34,1],[0.44,6],[0.53,4],[0.59,6],[0.65,1],[0.71,-11],[0.77,-17],[0.83,-7],[0.90,6],[0.96,10],[1.08,9],[1.14,6],[1.19,-2],[1.23,9],[1.32,-12],[1.41,3],[1.51,12],[1.60,10],[1.69,8],[1.78,1],[1.81,-6],[1.89,9],[1.96,-27],[2.06,-4],[2.18,9],[2.30,6],[2.39,-2],[2.46,11],[2.56,-22],[2.67,3],[2.73,12],[2.88,9],[2.95,-2],[3.04,6],[3.12,-28],[3.22,-4],[3.34,9],[3.50,6],[3.57,1],[3.64,13],[3.73,-28],[3.85,1],[3.95,8],[4.08,4],[4.14,-1],[4.23,11],[4.34,-28],[4.44,3],[4.54,10],[4.66,9],[4.77,-3],[4.85,9],[4.91,-11],[4.96,-29],[5.05,-7],[5.14,8],[5.26,6],[5.37,-6],[5.44,10],[5.55,-30],[5.66,-1],[5.75,9],[5.87,8],[5.98,-3],[6.09,6],[6.17,-29],[6.27,-2],[6.38,10],[6.49,6],[6.58,1],[6.65,7],[6.75,-31],[6.85,-2],[6.95,9],[7.10,4],[7.19,-12],[7.25,13],[7.34,-27],[7.47,3],[7.53,10],[7.71,4],[7.80,-2],[7.89,9],[7.98,-28],[8.08,0],[8.17,11],[8.35,8],[8.45,-2],[8.50,9],[8.59,-31],[8.69,-1],[8.78,9],[8.89,4],[8.99,1],[9.09,6],[9.20,-25],[9.30,-1],[9.42,9],[9.57,1]];

const czPz = [[-0.01,0],[0.10,2],[0.16,-2],[0.22,-6],[0.31,-2],[0.44,-1],[0.59,0],[0.71,-5],[0.83,2],[0.93,0],[1.05,2],[1.14,-2],[1.20,-6],[1.29,0],[1.38,2],[1.48,3],[1.57,0],[1.69,0],[1.81,-2],[1.89,-3],[1.96,-12],[2.06,-2],[2.18,1],[2.30,0],[2.39,0],[2.47,-7],[2.55,-10],[2.67,2],[2.73,4],[2.88,2],[2.96,0],[3.04,1],[3.12,-12],[3.22,-2],[3.34,2],[3.50,1],[3.62,5],[3.72,-11],[3.83,-2],[3.95,2],[4.08,1],[4.20,2],[4.25,0],[4.34,-10],[4.44,0],[4.57,1],[4.77,-2],[4.86,4],[4.96,-10],[5.05,-2],[5.14,0],[5.26,-2],[5.42,4],[5.54,-10],[5.63,-2],[5.72,2],[5.84,1],[5.97,0],[6.06,3],[6.17,-10],[6.27,-2],[6.40,2],[6.52,1],[6.64,0],[6.72,-12],[6.85,-2],[6.98,0],[7.10,-1],[7.19,-5],[7.25,7],[7.34,-10],[7.47,-2],[7.62,0],[7.77,-2],[7.89,4],[7.98,-10],[8.08,-1],[8.23,2],[8.41,0],[8.51,-2],[8.59,-12],[8.69,-2],[8.78,3],[8.90,2],[9.03,-2],[9.10,0],[9.20,-10],[9.30,0],[9.42,3],[9.57,-2]];

const ekg = [[-0.02,0],
    [0.11,0],[0.13,-11],[0.16,4],[0.21,1],[0.41,0],[0.44,-1],[0.47,0],
    [0.70,0],[0.72,-10],[0.75,5],[0.80,1],[1.00,0],[1.03,-1],[1.06,0],
    [1.28,0],[1.30,-9],[1.33,5],[1.38,1],[1.58,1],[1.61,-1],[1.64,0],
    [1.87,0],[1.89,-11],[1.92,5],[1.97,2],[2.17,0],[2.20,-1],[2.23,0],
    [2.46,0],[2.48,-9],[2.51,5],[2.56,1],[2.76,0],[2.79,-1],[2.82,0],
    [3.03,0],[3.05,-9],[3.08,5],[3.13,1],[3.33,0],[3.36,-1],[3.39,0],
    [3.62,0],[3.64,-11],[3.67,4],[3.72,1],[3.92,0],[3.95,-1],[3.98,0],
    [4.20,0],[4.22,-10],[4.25,5],[4.30,1],[4.50,0],[4.53,-1],[4.56,0],
    [4.78,0],[4.80,-9],[4.83,5],[4.88,2],[5.08,0],[5.11,-1],[5.14,0],
    [5.37,0],[5.39,-11],[5.42,4],[5.47,1],[5.67,0],[5.70,-1],[5.73,0],
    [5.95,0],[5.97,-11],[6.00,4],[6.05,1],[6.25,0],[6.28,-1],[6.31,0],
    [6.52,0],[6.54,-9],[6.57,5],[6.62,2],[6.82,0],[6.85,-1],[6.88,0],
    [7.10,0],[7.12,-11],[7.15,4],[7.20,1],[7.40,0],[7.43,-1],[7.46,0],
    [7.68,0],[7.70,-11],[7.73,4],[7.78,1],[7.98,0],[8.01,-1],[8.04,0],
    [8.26,0],[8.28,-9],[8.31,5],[8.36,2],[8.56,0],[8.59,-1],[8.62,0],
    [8.84,0],[8.86,-10],[8.89,5],[8.94,2],[9.14,0],[9.17,-1],[9.20,0],
    [9.42,0],[9.44,-10],[9.47,4],[9.52,1],[9.57,0]];

const BLUE = '#1a1ac6';
const RED = '#ee1414';
const GREEN = '#1d9e50';
const BLACK = '#111111';

const channelPoints = [fp2F8, f8T4, t4T6, t6O2, fp1F7, f7T3, t3T5, t5O1, fp2F4, f4C4, c4P4, p4O2, fp1F3, f3C3, c3P3, p3O1, fzCz, czPz, ekg];
const channelColors = [BLUE, BLUE, BLUE, BLUE, RED, RED, RED, RED, BLUE, BLUE, BLUE, BLUE, RED, RED, RED, RED, GREEN, GREEN, BLACK];
// noisy frontal derivations and the EKG keep sharp corners
const sharpTraces = [4, 5, 12, 13, 18];

const W = 1500;
const H = 1076;
const ROW0 = 80;
const ROW_GAP = 52.05;
const HEADER = 14;

const baseOf = (i: number) => -(ROW0 + ROW_GAP * i);

const channels = channelNames.map((name, i) => ({
    name,
    color: channelColors[i],
    base: baseOf(i),
    sharp: sharpTraces.includes(i),
    data: channelPoints[i].map(([t, a]) => ({ t, v: baseOf(i) + a })),
}));

const TimeLabel = ({ viewBox, text }: any) => (
    <text x={viewBox.x + 3} y={9} fontSize={10} fill="#333" fontFamily="'Liberation Sans', Arial, sans-serif">
        {text}
    </text>
);

const EegChart = () => (
    <LineChart width={W} height={H} margin={{ top: 0, right: 0, bottom: 0, left: 0 }}>
        <XAxis dataKey="t" type="number" domain={[T_START, T_END]} allowDataOverflow hide />
        <YAxis type="number" domain={[-H, 0]} allowDataOverflow hide />
        <ReferenceLine y={-HEADER} stroke="#9c9c9c" strokeDasharray="1 2" />
        {secondTicks.map((s, i) => (
            <ReferenceLine
                key={`s-${s}`}
                x={s}
                stroke="#a2a2a2"
                strokeDasharray="1 2"
                label={(props: any) => <TimeLabel {...props} text={secondLabels[i]} />}
            />
        ))}
        {channels.map((ch) => (
            <ReferenceLine
                key={`b-${ch.name}`}
                segment={[{ x: PANEL_END, y: ch.base }, { x: T_END, y: ch.base }]}
                stroke="#adadad"
                strokeDasharray="1 2"
            />
        ))}
        {channels.map((ch) => (
            <Line
                key={ch.name}
                data={ch.data}
                dataKey="v"
                type={ch.sharp ? 'linear' : 'monotoneX'}
                stroke={ch.color}
                strokeWidth={ch.sharp ? 1.7 : 2}
                strokeLinejoin="round"
                dot={false}
                activeDot={false}
                isAnimationActive={false}
            />
        ))}
    </LineChart>
);

export default function App() {
    return (
        <div style={{ position: 'absolute', left: 0, top: 0, width: W, height: H, background: '#ececec', overflow: 'hidden' }}>
            <div
                style={{
                    position: 'absolute',
                    left: 0,
                    top: HEADER,
                    width: 96,
                    height: H - HEADER,
                    background: '#7f7f7f',
                    borderLeft: '2px solid #3c3c3c',
                    boxSizing: 'border-box',
                }}
            />
            <div style={{ position: 'absolute', left: 0, top: 0 }}>
                <EegChart />
            </div>
            {channels.map((ch, i) => (
                <div
                    key={`l-${ch.name}`}
                    style={{
                        position: 'absolute',
                        left: i < 9 ? 9 : 4,
                        top: -ch.base - 18,
                        fontFamily: "'Liberation Sans', Arial, sans-serif",
                        fontWeight: 'bold',
                        fontSize: 17.5,
                        lineHeight: 1,
                        letterSpacing: -0.2,
                        whiteSpace: 'nowrap',
                        color: i === 18 ? '#f4f000' : '#f4f4f4',
                        textShadow: '1px 1px 1px #1e1e1e, -1px 0 1px #3a3a3a',
                    }}
                >
                    {ch.name}
                </div>
            ))}
        </div>
    );
}
